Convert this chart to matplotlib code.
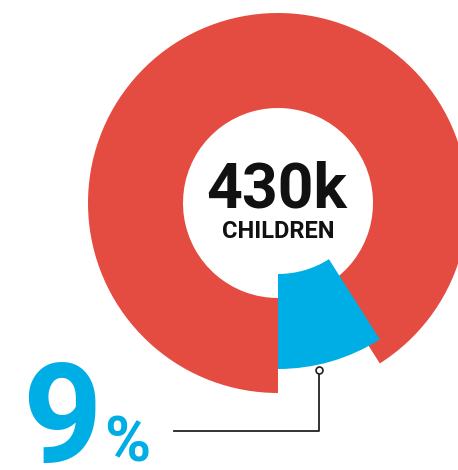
import matplotlib.pyplot as plt

# share of children (percent): highlighted group vs the rest
shares = [9, 91]
colors = ["#00AEE6", "#E44C41"]
total_label = "430k"
total_caption = "CHILDREN"
share_value = "9"
share_unit = "%"

plt.rcParams['font.family'] = ['Roboto', 'DejaVu Sans']

fig = plt.figure(figsize=(4.58, 4.70), dpi=100)
ax = fig.add_axes([0, 0, 1, 1])

wedges, _ = ax.pie(shares, colors=colors, startangle=270, counterclock=True,
                   radius=190, center=(278, 267),
                   wedgeprops=dict(width=95, linewidth=0))
# the highlighted slice is pulled up towards the middle
wedges[0].set_center((278, 291))
wedges[0].set_zorder(3)

ax.text(277, 263, total_label, ha='center', va='baseline',
        fontsize=45, fontweight='bold', color='#111111')
ax.text(278, 232, total_caption, ha='center', va='baseline',
        fontsize=17, fontweight='bold', color='#111111')

ax.text(22, 8, share_value, ha='left', va='baseline',
        fontsize=100, fontweight='bold', color=colors[0])
ax.text(104, 8, share_unit, ha='left', va='baseline',
        fontsize=45, fontweight='bold', color=colors[0])

# leader line from the label to the slice
ax.plot([174, 319, 319], [39, 39, 98], color='#222222', lw=1.3, zorder=4)
ax.plot([319], [100], marker='o', ms=5, mfc='white', mec='#222222',
        mew=1.2, zorder=5)

ax.set_xlim(0, 458)
ax.set_ylim(0, 470)
ax.set_aspect('equal')
ax.axis('off')

fig.savefig('out.png', dpi=100)
